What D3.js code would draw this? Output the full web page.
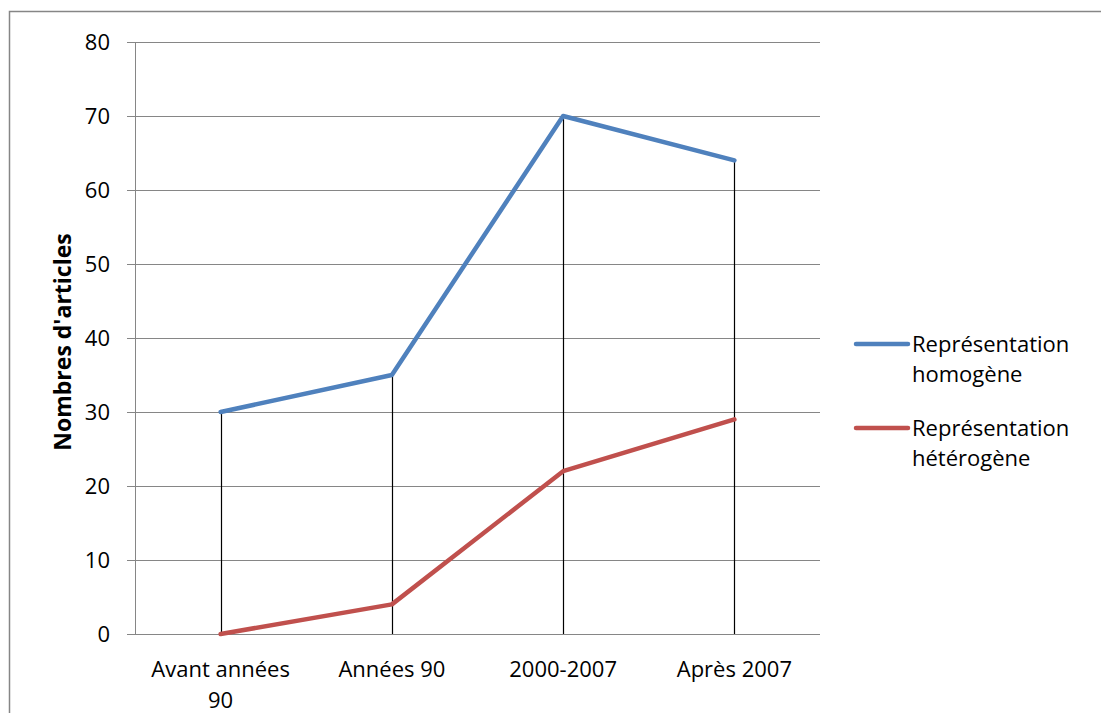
<!DOCTYPE html>
<html>
<head>
<meta charset="utf-8">
<script src="https://cdn.jsdelivr.net/npm/d3@7"></script>
<style>
body { margin: 0; background: #fff; }
text { font-family: "Open Sans", "Noto Sans", sans-serif; fill: #000; }
</style>
</head>
<body>
<svg width="1101" height="713"></svg>
<script>
var categories = ["Avant années 90", "Années 90", "2000-2007", "Après 2007"];
var homogene = [30, 35, 70, 64];
var heterogene = [0, 4, 22, 29];
var yTicks = [0, 10, 20, 30, 40, 50, 60, 70, 80];
var seriesNames = ["Représentation homogène", "Représentation hétérogène"];
var colors = ["#4F81BD", "#C0504D"];

var svg = d3.select("svg");

// outer chart border
svg.append("rect")
  .attr("x", 9.5).attr("y", 11.5)
  .attr("width", 1200).attr("height", 800)
  .attr("fill", "none").attr("stroke", "#868686").attr("stroke-width", 1.5);

var plotLeft = 135, plotRight = 820, plotTop = 42, plotBottom = 634;
var fs = "22px";

var x = d3.scaleBand().domain(categories).range([plotLeft, plotRight]);
var y = d3.scaleLinear().domain([0, 80]).range([plotBottom, plotTop]);

// gridlines
svg.append("g").selectAll("line")
  .data(yTicks)
  .enter().append("line")
  .attr("x1", plotLeft - 8).attr("x2", plotRight)
  .attr("y1", function(d) { return Math.round(y(d)) + 0.5; })
  .attr("y2", function(d) { return Math.round(y(d)) + 0.5; })
  .attr("stroke", "#868686").attr("stroke-width", 1);

// y axis line
svg.append("line")
  .attr("x1", plotLeft + 0.5).attr("x2", plotLeft + 0.5)
  .attr("y1", plotTop).attr("y2", plotBottom)
  .attr("stroke", "#868686");

// y tick labels
svg.append("g").selectAll("text")
  .data(yTicks)
  .enter().append("text")
  .attr("x", 110)
  .attr("y", function(d) { return y(d); })
  .attr("dy", "0.35em")
  .attr("text-anchor", "end")
  .attr("font-size", fs)
  .text(function(d) { return d; });

// y axis title
svg.append("text")
  .attr("transform", "translate(71," + 342 + ") rotate(-90)")
  .attr("text-anchor", "middle")
  .attr("font-size", "23px")
  .attr("font-weight", "bold")
  .text("Nombres d'articles");

// drop lines
svg.append("g").selectAll("line")
  .data(categories)
  .enter().append("line")
  .attr("x1", function(d) { return Math.round(x(d) + x.bandwidth() / 2) + 0.5; })
  .attr("x2", function(d) { return Math.round(x(d) + x.bandwidth() / 2) + 0.5; })
  .attr("y1", function(d, i) { return y(Math.max(homogene[i], heterogene[i])); })
  .attr("y2", y(0))
  .attr("stroke", "#000").attr("stroke-width", 1.2);

// x labels
var xl = svg.append("g").selectAll("text")
  .data(categories)
  .enter().append("text")
  .attr("x", function(d) { return x(d) + x.bandwidth() / 2; })
  .attr("y", 677)
  .attr("text-anchor", "middle")
  .attr("font-size", fs);
xl.each(function(d) {
  var t = d3.select(this);
  if (d === "Avant années 90") {
    t.append("tspan").attr("x", t.attr("x")).text("Avant années");
    t.append("tspan").attr("x", t.attr("x")).attr("dy", 31).text("90");
  } else {
    t.text(d);
  }
});

// series lines
var line = d3.line()
  .x(function(d, i) { return x(categories[i]) + x.bandwidth() / 2; })
  .y(function(d) { return y(d); });

[homogene, heterogene].forEach(function(s, k) {
  svg.append("path")
    .datum(s)
    .attr("d", line)
    .attr("fill", "none")
    .attr("stroke", colors[k])
    .attr("stroke-width", 4.5)
    .attr("stroke-linecap", "round")
    .attr("stroke-linejoin", "round");
});

// legend
var legendY = [344, 428];
seriesNames.forEach(function(name, k) {
  svg.append("line")
    .attr("x1", 856).attr("x2", 908)
    .attr("y1", legendY[k]).attr("y2", legendY[k])
    .attr("stroke", colors[k]).attr("stroke-width", 4.5)
    .attr("stroke-linecap", "round");
  var words = name.split(" ");
  var t = svg.append("text")
    .attr("x", 912).attr("y", legendY[k] + 8)
    .attr("font-size", fs);
  t.append("tspan").attr("x", 912).text(words[0]);
  t.append("tspan").attr("x", 912).attr("dy", 30).text(words[1]);
});
</script>
</body>
</html>
